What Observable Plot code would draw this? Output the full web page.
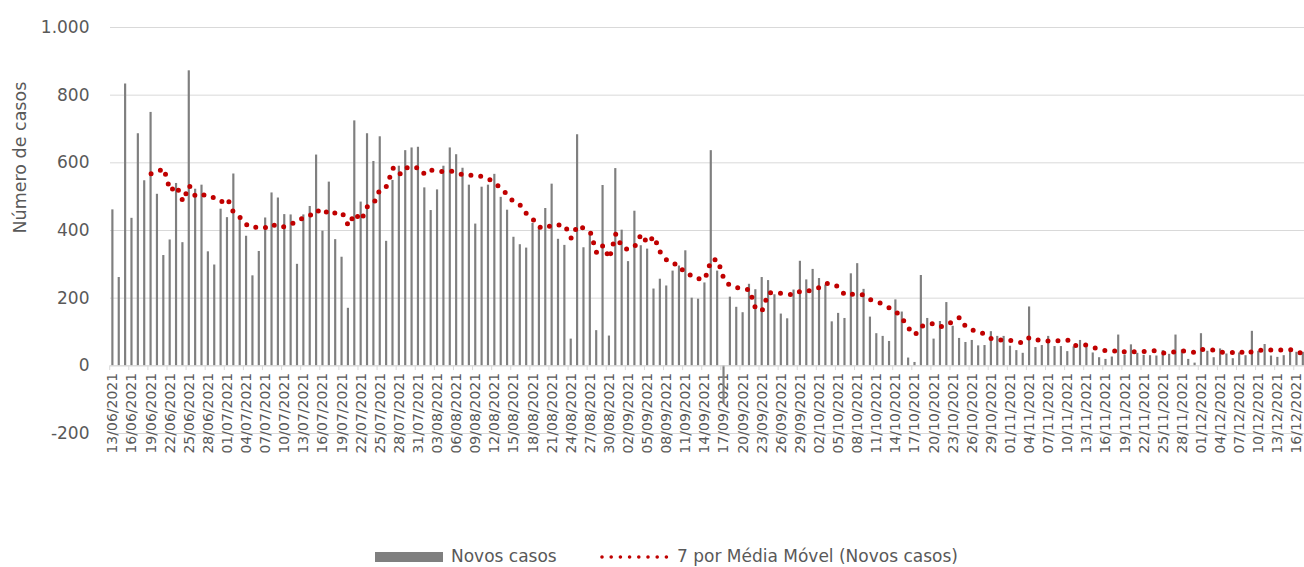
<!DOCTYPE html>
<html><head><meta charset="utf-8">
<script src="https://cdn.jsdelivr.net/npm/d3@7"></script>
<script src="https://cdn.jsdelivr.net/npm/@observablehq/plot@0.6"></script>
<style>
body{margin:0;background:#fff;}
#chart{position:relative;width:1304px;height:567px;overflow:hidden;font-family:"DejaVu Sans",sans-serif;color:#595959;}
#chart svg.plot{position:absolute;left:0;top:0;}
.lg{position:absolute;font-size:17px;line-height:20px;white-space:nowrap;color:#595959;}
</style></head><body>
<div id="chart"></div>
<script>
// Novos casos por dia (13/06/2021 – 17/12/2021)
const junValues = [461, 261, 833, 436, 686, 547, 749, 507, 326, 372, 539, 364, 872, 522, 534, 337, 298, 463];
const julValues = [438, 567, 433, 383, 266, 338, 437, 511, 496, 447, 446, 300, 446, 471, 623, 398, 543, 373, 321, 170, 724, 484, 686, 604, 677, 368, 548, 590, 636, 644, 646];
const augValues = [526, 459, 520, 590, 644, 624, 584, 534, 419, 528, 534, 566, 498, 460, 380, 358, 348, 421, 409, 465, 537, 374, 356, 79, 683, 349, 388, 104, 533, 88, 583];
const sepValues = [401, 308, 457, 355, 345, 227, 256, 236, 280, 295, 340, 200, 197, 245, 636, 280, -112, 203, 173, 157, 241, 225, 261, 252, 210, 153, 139, 224, 309, 254];
const octValues = [285, 258, 239, 130, 155, 140, 272, 302, 226, 144, 95, 87, 72, 195, 159, 23, 10, 267, 140, 79, 131, 187, 117, 81, 69, 75, 59, 60, 101, 87, 87];
const novValues = [58, 45, 37, 174, 54, 60, 87, 57, 57, 42, 56, 75, 54, 38, 24, 19, 26, 91, 32, 62, 37, 31, 30, 29, 45, 34, 91, 47, 19, 8];
const decValues = [95, 43, 24, 50, 35, 21, 38, 30, 102, 43, 63, 29, 25, 30, 43, 40, 40];

const months = [
  {month: "06", firstDay: 13, values: junValues},
  {month: "07", firstDay: 1, values: julValues},
  {month: "08", firstDay: 1, values: augValues},
  {month: "09", firstDay: 1, values: sepValues},
  {month: "10", firstDay: 1, values: octValues},
  {month: "11", firstDay: 1, values: novValues},
  {month: "12", firstDay: 1, values: decValues}
];
const yTicks = [-200, 0, 200, 400, 600, 800, 1000];
const seriesBars = "Novos casos";
const seriesAvg = "7 por Média Móvel (Novos casos)";
const yTitle = "Número de casos";

const data = months.flatMap(({month, firstDay, values}) =>
  values.map((v, k) => ({date: `${String(firstDay + k).padStart(2, "0")}/${month}/2021`, value: v})));
const dates = data.map(d => d.date);
const tickLabels = dates.filter((d, i) => i % 3 === 0);

const fmt = d3.formatLocale({decimal: ",", thousands: ".", grouping: [3], currency: ["R$", ""], minus: "-"}).format(",d");

const x0 = 109.2, x1 = 1306;
const bw = (x1 - x0) / dates.length;
const grey = "#7f7f7f", red = "#c00000", gridC = "#d9d9d9", textC = "#595959";

const plot = Plot.plot({
  width: 1304, height: 540,
  marginLeft: 110, marginRight: 0, marginTop: 27, marginBottom: 107,
  x: {type: "band", domain: dates, range: [x0, x1], padding: 0, axis: null},
  y: {domain: [-200, 1000], range: [433, 27], axis: null},
  style: {fontFamily: "DejaVu Sans, sans-serif", color: textC, background: "white", overflow: "visible"},
  marks: [
    Plot.gridY(yTicks, {stroke: gridC, strokeOpacity: 1, strokeWidth: 1}),
    Plot.axisY(yTicks, {anchor: "left", tickSize: 0, tickPadding: 21, tickFormat: fmt, fontSize: 17, fill: textC, label: null}),
    Plot.text([yTitle], {frameAnchor: "left", dx: -90, dy: 3, rotate: -90, fontSize: 17.5, fill: textC}),
    Plot.ruleX(tickLabels, {x: d => d, y1: 0, y2: -14, dx: -bw / 2, stroke: gridC, strokeWidth: 1}),
    Plot.text(tickLabels, {x: d => d, y: 0, dy: 7, rotate: -90, textAnchor: "end", lineAnchor: "middle", fontSize: 14, fill: textC}),
    Plot.barY(data, {x: "date", y: "value", fill: grey, insetLeft: 2.1, insetRight: 2.1}),
    Plot.ruleY([0], {stroke: gridC, strokeWidth: 1}),
    Plot.line(data, Plot.windowY({k: 7, anchor: "end", strict: true, reduce: "mean"},
      {x: "date", y: "value", stroke: red, strokeWidth: 5, strokeDasharray: "0 10", strokeLinecap: "round", strokeLinejoin: "round"}))
  ]
});
const chart = document.getElementById("chart");
chart.appendChild(plot);

// legend (below the plot)
const lg = document.createElement("div");
lg.innerHTML = `
  <div style="position:absolute;left:375px;top:552px;width:68px;height:10px;background:${grey}"></div>
  <div class="lg" style="left:451px;top:546px">${seriesBars}</div>
  <svg style="position:absolute;left:596px;top:550px" width="76" height="14">
    <line x1="6" y1="7" x2="71" y2="7" stroke="${red}" stroke-width="3.6" stroke-linecap="round" stroke-dasharray="0 9.2"/>
  </svg>
  <div class="lg" style="left:677px;top:546px">${seriesAvg}</div>`;
chart.appendChild(lg);
</script>
</body></html>
